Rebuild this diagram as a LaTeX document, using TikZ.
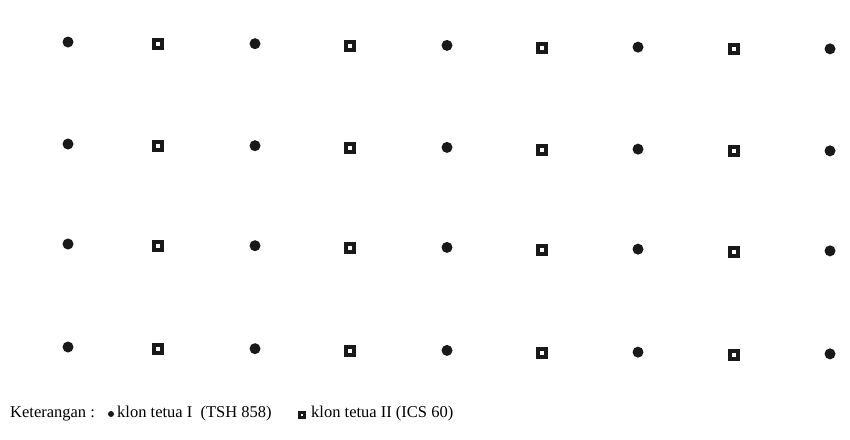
\documentclass[tikz,border=0pt]{standalone}
\usepackage{fontspec}
\setmainfont{Liberation Serif}

\begin{document}
\begin{tikzpicture}[x=1pt,y=-1pt,
  klonI/.style={circle,fill=black!90,inner sep=0pt,minimum size=11pt},
  klonII/.style={rectangle,draw=black!90,fill=white,line width=4pt,inner sep=0pt,minimum size=8pt},
  ket/.style={anchor=west,inner sep=0pt,font=\fontsize{16.5}{19}\selectfont}]
  \useasboundingbox (0,0) rectangle (850,439);
  % baris tanaman
  \foreach \yy [count=\r] in {42,144,244,347} {
    \foreach \x [count=\c] in {68,255,447,638,830}
      \node[klonI] (a-\r-\c) at ({\x},{\yy+0.009*(\x-68)}) {};
    \foreach \x [count=\c] in {158,350,542,734}
      \node[klonII] (b-\r-\c) at ({\x},{\yy+1.5+0.009*(\x-68)}) {};
  }
  % keterangan
  \node[ket] (ket) at (10,414) {Keterangan :};
  \node[klonI,minimum size=6pt] (la) at (111,414) {};
  \node[ket] (ta) at (117,414) {klon tetua I\ \ (TSH 858)};
  \node[klonII,minimum size=5pt,line width=2.4pt] (lb) at (302,415) {};
  \node[ket] (tb) at (311,414) {klon tetua II (ICS 60)};
\end{tikzpicture}
\end{document}
